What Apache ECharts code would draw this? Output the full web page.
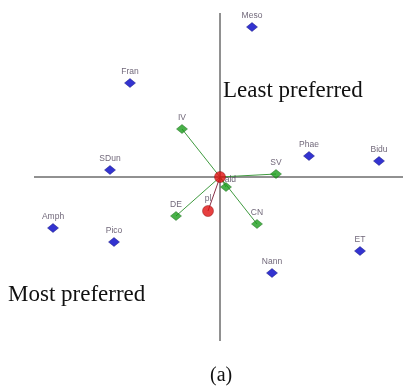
<!DOCTYPE html>
<html><head><meta charset="utf-8">
<script src="https://cdn.jsdelivr.net/npm/echarts@6/dist/echarts.min.js"></script>
<style>html,body{margin:0;padding:0;background:#fff}#c{width:403px;height:388px}</style>
</head><body><div id="c"></div>
<script>
// Species (blue) points
var speciesNames = ['Meso','Fran','SDun','Phae','Bidu','Amph','Pico','Nann','ET'];
var speciesX = [0.32,-0.90,-1.10,0.89,1.59,-1.67,-1.06,0.52,1.40];
var speciesY = [1.50,0.94,0.07,0.21,0.16,-0.51,-0.65,-0.96,-0.74];
// Attribute vectors (green)
var attrNames = ['IV','SV','DE','CN',''];
var attrX = [-0.38,0.56,-0.44,0.37,0.06];
var attrY = [0.48,0.03,-0.39,-0.47,-0.10];
// Red points
var redNames = ['ald','pl'];
var redX = [0,-0.12];
var redY = [0,-0.34];
// Axis line extents
var hAxisX = [-1.86,1.83];
var vAxisY = [1.64,-1.64];

var chart = echarts.init(document.getElementById('c'));
var labelStyle = {show:true,position:'top',distance:2,fontSize:8.5,color:'#4a3f55',fontFamily:'"Liberation Sans", Arial, sans-serif'};
var series = [];
series.push({type:'line',data:[[hAxisX[0],0],[hAxisX[1],0]],symbol:'none',lineStyle:{color:'#222',width:1},silent:true,z:1});
series.push({type:'line',data:[[0,vAxisY[0]],[0,vAxisY[1]]],symbol:'none',lineStyle:{color:'#222',width:1},silent:true,z:1});
attrX.forEach(function(x,i){
  series.push({type:'line',data:[[redX[0],redY[0]],[x,attrY[i]]],symbol:'none',lineStyle:{color:'#3f9a3f',width:1},silent:true,z:2});
});
series.push({type:'line',data:[[redX[0],redY[0]],[redX[1],redY[1]]],symbol:'none',lineStyle:{color:'#8a3048',width:1},silent:true,z:2});
series.push({type:'scatter',symbol:'diamond',symbolSize:[11,9],itemStyle:{color:'#0000c4',borderColor:'#00006a',borderWidth:0.5},
  data:speciesX.map(function(x,i){return {value:[x,speciesY[i]],name:speciesNames[i]};}),
  label:Object.assign({},labelStyle,{formatter:'{b}'}),z:5});
series.push({type:'scatter',symbol:'diamond',symbolSize:[11,9],itemStyle:{color:'#1c9c1c',borderColor:'#0d5a0d',borderWidth:0.5},
  data:attrX.map(function(x,i){return {value:[x,attrY[i]],name:attrNames[i]};}),
  label:Object.assign({},labelStyle,{formatter:'{b}'}),z:5});
series.push({type:'scatter',symbol:'circle',symbolSize:11,itemStyle:{color:'#e01010',borderColor:'#7a0000',borderWidth:0.5},
  data:redX.map(function(x,i){return {value:[x,redY[i]],name:redNames[i],label:i===0?{position:'right',distance:-1,offset:[0,3]}:{}};}),
  label:Object.assign({},labelStyle,{formatter:'{b}'}),z:6});

var serifFont = '"Liberation Serif", "Times New Roman", serif';
chart.setOption({
  animation:false,
  grid:{left:0,right:0,top:0,bottom:0},
  xAxis:{type:'value',min:-2.20,max:1.83,show:false},
  yAxis:{type:'value',min:-2.11,max:1.77,show:false},
  series:series,
  graphic:[
    {type:'text',left:223,top:79,style:{text:'Least preferred',font:'23px ' + serifFont,fill:'#111'}},
    {type:'text',left:8,top:283,style:{text:'Most preferred',font:'23px ' + serifFont,fill:'#111'}},
    {type:'text',left:210,top:366,style:{text:'(a)',font:'20px ' + serifFont,fill:'#111'}}
  ]
});
</script></body></html>
